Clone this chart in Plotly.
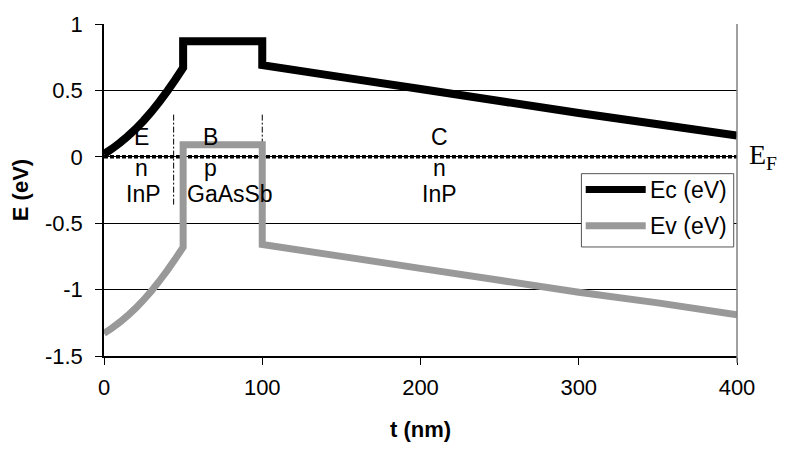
import plotly.graph_objects as go

# Band diagram of an InP / GaAsSb / InP structure
t_nm = [0, 5, 10, 15, 20, 25, 30, 35, 40, 45, 50, 50, 100, 100, 150, 200, 250, 300, 350, 400]
ec_ev = [0.02, 0.06, 0.105, 0.155, 0.21, 0.272, 0.34, 0.415, 0.495, 0.58, 0.67,
         0.87, 0.87, 0.69, 0.60, 0.51, 0.42, 0.33, 0.245, 0.16]
ev_ev = [-1.33, -1.29, -1.245, -1.195, -1.14, -1.078, -1.01, -0.935, -0.855, -0.77, -0.68,
         0.09, 0.09, -0.66, -0.75, -0.84, -0.93, -1.02, -1.10, -1.19]

# Fermi level and layer boundaries
fermi_t = [0, 400]
fermi_e = [0, 0]
boundaries_t = [44, 100]
boundary_span = [-0.36, 0.33]

# Region labels: emitter, base, collector (letter / doping / material)
region_letter_t = [24, 67.5, 212]
region_material_t = [25, 79.5, 212]
region_letters = ["E", "B", "C"]
region_doping = ["n", "p", "n"]
region_material = ["InP", "GaAsSb", "InP"]
letter_e, doping_e, material_e = 0.15, -0.085, -0.28

series_names = ["Ec (eV)", "Ev (eV)"]
series_colors = ["black", "#999999"]
series_widths = [8, 7]

x_ticks = [0, 100, 200, 300, 400]
y_ticks = [-1.5, -1, -0.5, 0, 0.5, 1]
y_ticktext = ["-1.5", "-1", "-0.5", "0", "0.5", "1"]

font = "Liberation Sans, Arial, sans-serif"

fig = go.Figure()

# Fermi level (dotted)
fig.add_trace(go.Scatter(x=fermi_t, y=fermi_e, mode="lines", showlegend=False,
                         hoverinfo="skip",
                         line=dict(color="black", width=3.5, dash="4px,2px")))

# Layer boundaries (dash-dot)
for tb in boundaries_t:
    fig.add_trace(go.Scatter(x=[tb, tb], y=boundary_span, mode="lines", showlegend=False,
                             hoverinfo="skip",
                             line=dict(color="black", width=1, dash="6px,2px,2px,2px")))

for name, yv, col, w in zip(series_names, [ec_ev, ev_ev], series_colors, series_widths):
    fig.add_trace(go.Scatter(x=t_nm, y=yv, mode="lines", name=name, showlegend=False,
                             line=dict(color=col, width=w, simplify=False)))

label_font = dict(family=font, size=23, color="black")
for tl, tm, a, b, c in zip(region_letter_t, region_material_t,
                           region_letters, region_doping, region_material):
    fig.add_annotation(x=tl, y=letter_e, text=a, showarrow=False, font=label_font)
    fig.add_annotation(x=tl, y=doping_e, text=b, showarrow=False, font=label_font)
    fig.add_annotation(x=tm, y=material_e, text=c, showarrow=False, font=label_font)

# Fermi level label
fig.add_annotation(x=1.016, xref="paper", y=0, yref="y", text="E<sub>F</sub>",
                   showarrow=False, xanchor="left", yanchor="middle",
                   font=dict(family="Liberation Serif, Times New Roman, serif", size=28, color="black"))

# Right border of the plot area
fig.add_shape(type="line", xref="paper", yref="paper", x0=1, x1=1, y0=-0.02, y1=1,
              line=dict(color="#808080", width=1.5))

# Legend box
fig.add_shape(type="rect", xref="paper", yref="paper", x0=0.7542, x1=0.9948,
              y0=0.3284, y1=0.5492, fillcolor="white",
              line=dict(color="#555555", width=1), layer="above")
legend_rows_y = [0.5012, 0.3923]
for name, col, ly in zip(series_names, series_colors, legend_rows_y):
    fig.add_shape(type="line", xref="paper", yref="paper", x0=0.761, x1=0.8558,
                  y0=ly, y1=ly, line=dict(color=col, width=7), layer="above")
    fig.add_annotation(x=0.859, xref="paper", y=ly, yref="paper", text=name,
                       showarrow=False, xanchor="left", yanchor="middle",
                       font=dict(family=font, size=23, color="black"))

fig.update_layout(
    width=789, height=450,
    margin=dict(l=104, r=52, t=18, b=92),
    paper_bgcolor="white", plot_bgcolor="white",
    font=dict(family=font, size=23, color="black"),
    showlegend=False,
    xaxis=dict(range=[0, 400], tickvals=x_ticks, ticks="outside", ticklen=7,
               tickcolor="black", showline=True, linecolor="black", linewidth=1.5,
               showgrid=False, zeroline=False, ticklabelstandoff=4,
               tickfont=dict(family=font, size=22),
               title=dict(text="<b>t (nm)</b>", standoff=22,
                          font=dict(family=font, size=22))),
    yaxis=dict(range=[-1.5, 1], tickvals=y_ticks, ticktext=y_ticktext,
               ticks="outside", ticklen=7, tickcolor="black",
               showline=True, linecolor="black", linewidth=1.5,
               showgrid=True, gridcolor="black", gridwidth=1, zeroline=False,
               ticklabelstandoff=8,
               tickfont=dict(family=font, size=22),
               title=dict(text="<b>E (eV)</b>", standoff=10,
                          font=dict(family=font, size=22))),
)

fig.write_html("out.html")
